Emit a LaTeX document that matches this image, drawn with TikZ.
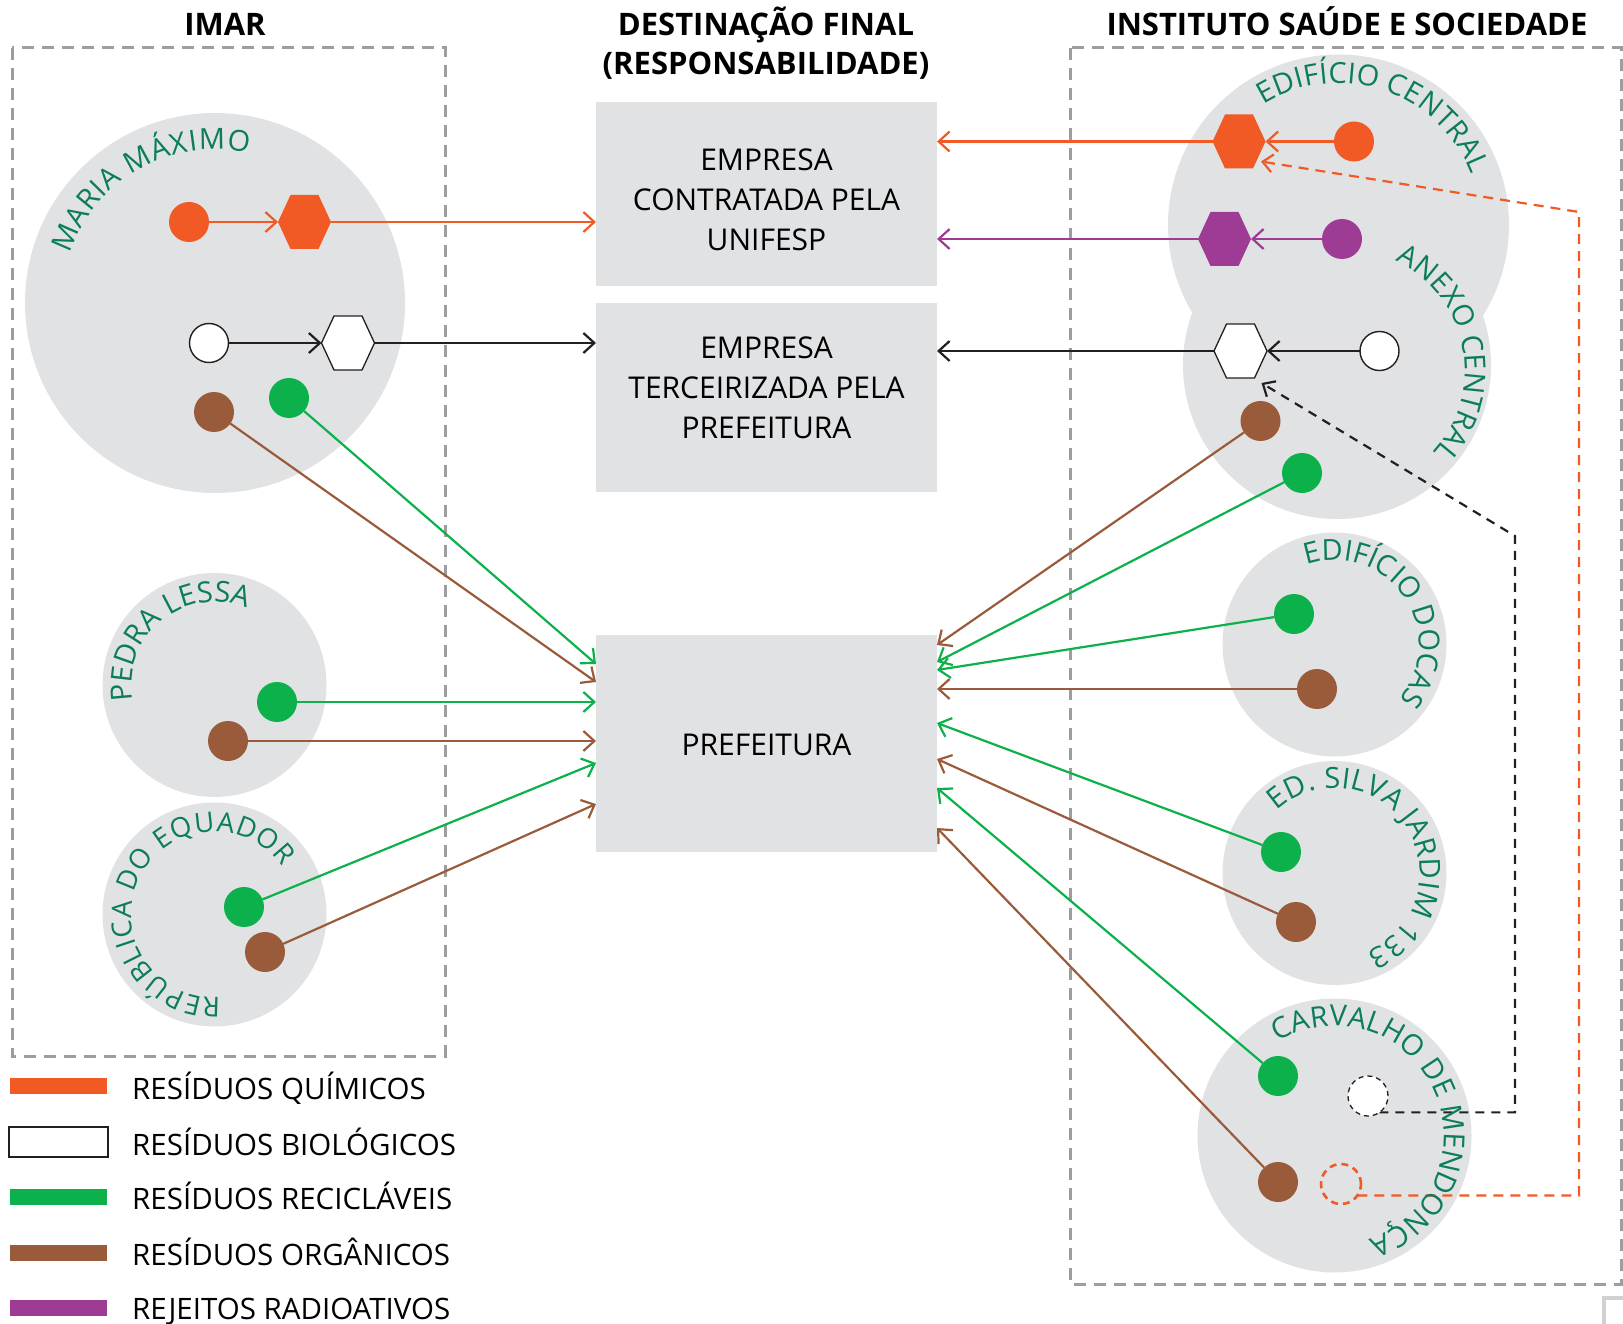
\documentclass[tikz,border=0pt]{standalone}
\usepackage{fontspec}
\setmainfont{Open Sans}
\usetikzlibrary{arrows.meta,decorations.text,calc}
\pgfdeclarelayer{bg}
\pgfdeclarelayer{mid}
\pgfsetlayers{bg,mid,main}

\definecolor{orng}{HTML}{F15A24}
\definecolor{grn}{HTML}{0DB14B}
\definecolor{brwn}{HTML}{9A5B3A}
\definecolor{purp}{HTML}{9E3B94}
\definecolor{lbl}{HTML}{0B7D5E}
\definecolor{gfill}{HTML}{E1E2E4}
\definecolor{bordergray}{HTML}{9D9D9D}
\definecolor{ink}{HTML}{231F20}

\newcommand\ttlfnt{\bfseries\fontsize{31}{39}\selectfont}
\newcommand\bxfnt{\fontsize{30}{40}\selectfont}
\newcommand\lgdfnt{\fontsize{29.5}{30}\selectfont}

% flat-topped, slightly tall hexagon around a named anchor box
\newcommand\hexpath[2]{%
  \path[#2] ([xshift=-26.5pt]#1.center) -- ([xshift=-14pt,yshift=27pt]#1.center)
    -- ([xshift=14pt,yshift=27pt]#1.center) -- ([xshift=26.5pt]#1.center)
    -- ([xshift=14pt,yshift=-27pt]#1.center) -- ([xshift=-14pt,yshift=-27pt]#1.center) -- cycle;}

% site name spread clockwise along an arc:
% [font size] centre, start angle, end angle, baseline radius, text
\newcommand\arclabel[6][29]{%
  \path[decorate,decoration={text along path,text align={fit to path},text color=lbl,
      text={|\fontsize{#1}{#1}\selectfont|#6}}]
    ($#2+({#3}:#5)$) arc[start angle={#3},end angle={#4},radius=#5];}

\begin{document}
\begin{tikzpicture}[x=1pt,y=1pt,
  site/.style={circle,fill=gfill,inner sep=0pt,outer sep=0pt},
  destbox/.style={rectangle,fill=gfill,inner sep=0pt,outer sep=0pt,minimum width=341pt},
  border/.style={draw=bordergray,line width=3pt,dash pattern=on 12pt off 8pt},
  dot/.style={circle,minimum size=40pt,inner sep=0pt,outer sep=0pt},
  gdot/.style={dot,fill=grn},
  bdot/.style={dot,fill=brwn},
  odot/.style={dot,fill=orng},
  pdot/.style={dot,fill=purp},
  wdot/.style={dot,minimum size=39pt,fill=white,draw=ink,line width=1.4pt},
  hexbox/.style={rectangle,minimum width=53pt,minimum height=54pt,inner sep=0pt,outer sep=0pt},
  flow/.style={line width=2.2pt,-{Straight Barb[length=11pt,width=20pt]}},
  bkdash/.style={draw=ink,line width=2.2pt,dash pattern=on 9pt off 7pt,-{Straight Barb[length=10pt,width=18pt]}},
  ordash/.style={draw=orng,line width=2.2pt,dash pattern=on 10pt off 7pt,-{Straight Barb[length=10pt,width=18pt]}},
  legbar/.style={rectangle,minimum width=97pt,minimum height=16pt,inner sep=0pt,outer sep=0pt},
  lgtext/.style={font=\lgdfnt,anchor=base west,inner sep=0pt,text=black},
  boxtext/.style={font=\bxfnt,align=center,inner sep=0pt,text=black},
  title/.style={font=\ttlfnt,align=center,anchor=base,inner sep=0pt,text=black}
]
\useasboundingbox (0,0) rectangle (1623,-1324);

% ---------- background: groups, sites and destinations ----------
\begin{pgfonlayer}{bg}
  \draw[border] (12,-48) rectangle (445,-1056);
  \draw[border] (1070,-48) rectangle (1621,-1284);
  \draw[draw=black!18,line width=4pt] (1604,-1324) -- (1604,-1298) -- (1623,-1298);

  \node[site,minimum size=380pt] (cMM) at (215,-303) {};
  \node[site,minimum size=224pt] (cPL) at (214.5,-685) {};
  \node[site,minimum size=224pt] (cRE) at (214.5,-914.5) {};

  \node[site,minimum size=341pt] (cEC) at (1338.5,-225) {};
  \node[site,minimum size=308pt] (cAC) at (1337,-365) {};
  \node[site,minimum size=224pt] (cED) at (1334.5,-644.5) {};
  \node[site,minimum size=224pt] (cSJ) at (1334.5,-873) {};
  \node[site,minimum size=274pt] (cCM) at (1334.5,-1135.5) {};

  \node[destbox,minimum height=184pt] (bCont) at (766.5,-194) {};
  \node[destbox,minimum height=189pt] (bTerc) at (766.5,-397.5) {};
  \node[destbox,minimum height=217pt] (bPref) at (766.5,-743.5) {};
\end{pgfonlayer}

% ---------- titles ----------
\node[title] (tImar) at (225,-36) {IMAR};
\node[title] (tDest) at (766,-75) {DESTINAÇÃO FINAL\\(RESPONSABILIDADE)};
\node[title] (tIss) at (1347,-36) {INSTITUTO SAÚDE E SOCIEDADE};

% ---------- destination texts ----------
\node[boxtext] (tCont) at (766.5,-200) {EMPRESA\\CONTRATADA PELA\\UNIFESP};
\node[boxtext] (tTerc) at (766.5,-388) {EMPRESA\\TERCEIRIZADA PELA\\PREFEITURA};
\node[boxtext] (tPref) at (766.5,-745) {PREFEITURA};

% ---------- waste points: IMAR ----------
\node[odot] (dOMM) at (189,-222) {};
\node[hexbox] (hOMM) at (304.5,-222) {};
\node[wdot] (dWMM) at (209,-343) {};
\node[hexbox] (hWMM) at (348,-343) {};
\node[gdot] (dGMM) at (289,-398) {};
\node[bdot] (dBMM) at (214,-412) {};
\node[gdot] (dGPL) at (277,-702) {};
\node[bdot] (dBPL) at (228,-741) {};
\node[gdot] (dGRE) at (244,-907) {};
\node[bdot] (dBRE) at (265,-952) {};

% ---------- waste points: Instituto Saude e Sociedade ----------
\node[hexbox] (hOEC) at (1239,-141.5) {};
\node[odot] (dOEC) at (1354,-141.5) {};
\node[hexbox] (hPEC) at (1224.5,-239) {};
\node[pdot] (dPEC) at (1342,-239) {};
\node[hexbox] (hWAC) at (1240.5,-351) {};
\node[wdot] (dWAC) at (1379.5,-351) {};
\node[bdot] (dBAC) at (1260.5,-421) {};
\node[gdot] (dGAC) at (1302,-473) {};
\node[gdot] (dGED) at (1294,-614) {};
\node[bdot] (dBED) at (1317,-689) {};
\node[gdot] (dGSJ) at (1281,-852) {};
\node[bdot] (dBSJ) at (1296,-922) {};
\node[gdot] (dGCM) at (1278,-1076) {};
\node[dot,fill=white,draw=ink,line width=1.3pt,dash pattern=on 5pt off 4pt] (wCM) at (1368,-1096) {};
\node[bdot] (dBCM) at (1278,-1182) {};
\node[dot,draw=orng,line width=2.6pt,dash pattern=on 7pt off 5pt] (oCM) at (1341,-1184) {};

\hexpath{hOMM}{fill=orng}
\hexpath{hWMM}{fill=white,draw=ink,line width=1.3pt}
\hexpath{hOEC}{fill=orng}
\hexpath{hPEC}{fill=purp}
\hexpath{hWAC}{fill=white,draw=ink,line width=1.3pt}

\coordinate (bkTurn) at (1515,-536);
\coordinate (orTurn) at (1579,-212);
\coordinate (acText) at ([shift={(8,-5)}]cAC.center);

% ---------- flows ----------
\begin{pgfonlayer}{mid}
  % IMAR
  \draw[flow,orng] (dOMM) -- (hOMM.west);
  \draw[flow,orng] (hOMM.east) -- (hOMM.east -| bCont.west);
  \draw[flow,ink] (dWMM) -- (hWMM.west);
  \draw[flow,ink] (hWMM.east) -- (hWMM.east -| bTerc.west);
  \draw[flow,grn] (dGMM) -- ([yshift=-29pt]bPref.north west);
  \draw[flow,brwn] (dBMM) -- ([yshift=-47pt]bPref.north west);
  \draw[flow,grn] (dGPL) -- (dGPL -| bPref.west);
  \draw[flow,brwn] (dBPL) -- (dBPL -| bPref.west);
  \draw[flow,grn] (dGRE) -- ([yshift=-128pt]bPref.north west);
  \draw[flow,brwn] (dBRE) -- ([yshift=-169pt]bPref.north west);
  % Instituto
  \draw[flow,orng] (dOEC) -- (hOEC.east);
  \draw[flow,orng] (hOEC.west) -- (hOEC.west -| bCont.east);
  \draw[flow,purp] (dPEC) -- (hPEC.east);
  \draw[flow,purp] (hPEC.west) -- (hPEC.west -| bCont.east);
  \draw[flow,ink] (dWAC) -- (hWAC.east);
  \draw[flow,ink] (hWAC.west) -- (hWAC.west -| bTerc.east);
  \draw[flow,brwn] (dBAC) -- ([yshift=-10pt]bPref.north east);
  \draw[flow,grn] (dGAC) -- ([yshift=-27pt]bPref.north east);
  \draw[flow,grn] (dGED) -- ([yshift=-35pt]bPref.north east);
  \draw[flow,brwn] (dBED) -- (dBED -| bPref.east);
  \draw[flow,grn] (dGSJ) -- ([yshift=-88pt]bPref.north east);
  \draw[flow,brwn] (dBSJ) -- ([yshift=-124pt]bPref.north east);
  \draw[flow,grn] (dGCM) -- ([yshift=-153pt]bPref.north east);
  \draw[flow,brwn] (dBCM) -- ([yshift=-193pt]bPref.north east);
  % returns from Carvalho de Mendonca
  \draw[bkdash] (wCM.-55) -- (wCM.-55 -| bkTurn) -- (bkTurn) -- ([xshift=21pt,yshift=-32pt]hWAC.center);
  \draw[ordash] (oCM.-35) -- (oCM.-35 -| orTurn) -- (orTurn) -- ([xshift=22pt,yshift=-20pt]hOEC.center);
\end{pgfonlayer}

% ---------- site names ----------
\arclabel{(cMM.center)}{161.4}{77.4}{153.5}{MARIA MÁXIMO}
\arclabel{(cPL.center)}{191}{72}{83}{PEDRA LESSA}
\arclabel[27.5]{(cRE.center)}{274}{35}{83}{REPÚBLICA DO EQUADOR}
\arclabel{(cEC.center)}{121.9}{20.8}{142}{EDIFÍCIO CENTRAL}
\arclabel{(acText)}{65.2}{-41.1}{120}{ANEXO CENTRAL}
\arclabel{(cED.center)}{109.5}{-39.5}{84.5}{EDIFÍCIO DOCAS}
\arclabel{(cSJ.center)}{133}{-67.9}{85}{ED. SILVA JARDIM 133}
\arclabel{(cCM.center)}{121.4}{-71.8}{109.5}{CARVALHO DE MENDONÇA}

% ---------- legend ----------
\node[legbar,fill=orng] (lgQ) at (58.5,-1086) {};
\node[legbar,minimum width=99pt,minimum height=30pt,fill=white,draw=ink,line width=1.3pt] (lgB) at (58.5,-1142) {};
\node[legbar,fill=grn] (lgR) at (58.5,-1197) {};
\node[legbar,fill=brwn] (lgO) at (58.5,-1252.5) {};
\node[legbar,fill=purp] (lgP) at (58.5,-1308) {};
\node[lgtext] (lgQt) at (132,-1099) {RESÍDUOS QUÍMICOS};
\node[lgtext] (lgBt) at (132,-1155) {RESÍDUOS BIOLÓGICOS};
\node[lgtext] (lgRt) at (132,-1209) {RESÍDUOS RECICLÁVEIS};
\node[lgtext] (lgOt) at (132,-1265) {RESÍDUOS ORGÂNICOS};
\node[lgtext] (lgPt) at (132,-1319) {REJEITOS RADIOATIVOS};
\end{tikzpicture}
\end{document}
